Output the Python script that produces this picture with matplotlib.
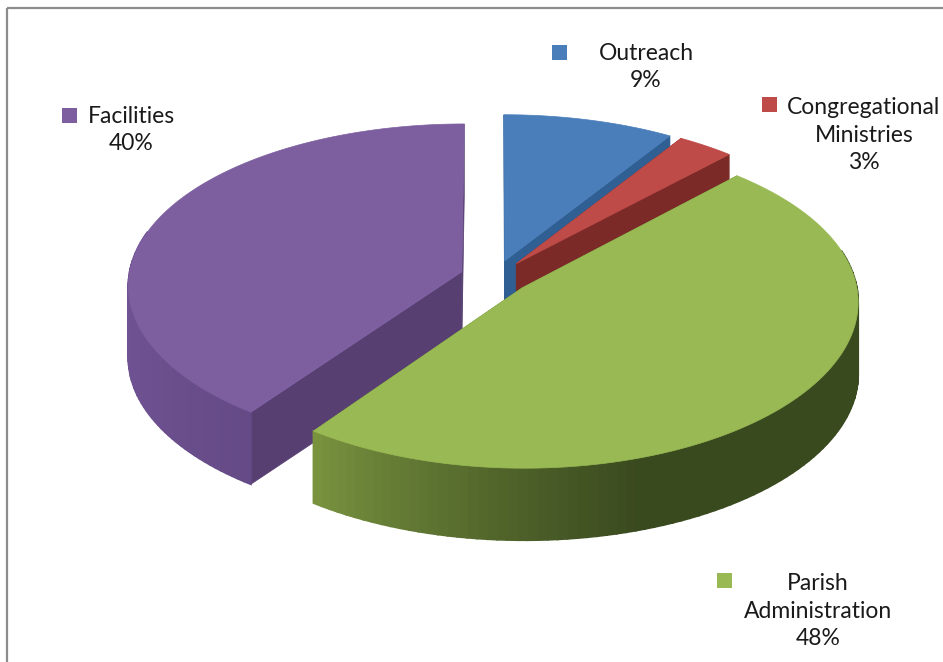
import numpy as np
import matplotlib
matplotlib.use("Agg")
import matplotlib.pyplot as plt
from matplotlib.patches import Polygon, Rectangle

categories = ["Outreach", "Congregational\nMinistries", "Parish\nAdministration", "Facilities"]
values = [9, 3, 48, 40]

top_colors = ["#4a7ebb", "#be4b48", "#98b954", "#7d5fa0"]
inner_colors = ["#2f5f93", "#7c2a28", "#5f7a30", "#573f72"]
# colour of the outer side, left to right
side_left = ["#3a6ca5", "#8f2f2d", "#7b9640", "#6f5292"]
side_right = ["#2f5f93", "#7c2a28", "#3a4a1f", "#5f4680"]

# where the labels and their squares sit (pixels)
label_xy = [(646, 67), (864, 135), (818, 611), (131, 130)]
key_xy = [(559, 52), (769, 104), (724, 580), (69, 115)]

CX, CY = 495, 277
RX, RY = 333, 162
PERSP_X = 0.08
PERSP_Y = 0.09
EXPLODE = 0.105
DEPTH = 72


def project(x, y, z=0.0):
    x = np.asarray(x, dtype=float)
    y = np.asarray(y, dtype=float)
    return CX + RX * x / (1.0 + PERSP_X * y), CY - RY * y / (1.0 + PERSP_Y * y) + DEPTH * z


fig = plt.figure(figsize=(9.43, 6.62), dpi=100)
ax = fig.add_axes([0, 0, 1, 1])
ax.set_xlim(0, 943)
ax.set_ylim(662, 0)
ax.axis("off")

ax.add_patch(Rectangle((7, 8), 960, 700, fill=False, ec="#8c8c8c", lw=1.6, zorder=1))

fracs = np.array(values) / sum(values)
edges = np.concatenate([[0], np.cumsum(fracs)]) * 2 * np.pi

# back slices first, green goes last because it is in front
order = [3, 0, 1, 2]
for k, i in enumerate(order):
    a0, a1 = edges[i], edges[i + 1]
    mid = (a0 + a1) / 2
    off = (EXPLODE * np.sin(mid), EXPLODE * np.cos(mid))
    z = 10 + k * 3

    apex = project(off[0], off[1])
    apex_b = project(off[0], off[1], 1)

    # flat cut faces
    for a in (a0, a1):
        p = project(np.sin(a) + off[0], np.cos(a) + off[1])
        q = project(np.sin(a) + off[0], np.cos(a) + off[1], 1)
        ax.add_patch(Polygon([apex, p, q, apex_b], fc=inner_colors[i], ec=inner_colors[i], lw=0.5, zorder=z))

    # outer side, made of small quads so it shades along x
    t = np.linspace(a0, a1, 110)
    x0, y0 = project(np.sin(t) + off[0], np.cos(t) + off[1])
    x1, y1 = project(np.sin(t) + off[0], np.cos(t) + off[1], 1)
    c0 = np.array(matplotlib.colors.to_rgb(side_left[i]))
    c1 = np.array(matplotlib.colors.to_rgb(side_right[i]))
    xmin, xmax = x0.min(), x0.max()
    for j in range(len(t) - 1):
        if np.cos(t[j]) > 0.25:
            continue
        f = ((x0[j] - xmin) / (xmax - xmin)) ** 0.8
        col = c0 + (c1 - c0) * min(1, f * 1.5)
        ax.add_patch(Polygon([(x0[j], y0[j]), (x0[j + 1], y0[j + 1]), (x1[j + 1], y1[j + 1]), (x1[j], y1[j])],
                             fc=col, ec=col, lw=1.3, zorder=z + 0.5))

    # top surface
    t = np.linspace(a0, a1, 160)
    xs, ys = project(np.sin(t) + off[0], np.cos(t) + off[1])
    pts = np.column_stack([np.r_[apex[0], xs], np.r_[apex[1], ys]])
    ax.add_patch(Polygon(pts, fc=top_colors[i], ec=top_colors[i], lw=0.5, zorder=z + 1))

plt.rcParams["font.family"] = ["Lato", "DejaVu Sans"]
for i, name in enumerate(categories):
    x, y = label_xy[i]
    ax.text(x, y, f"{name}\n{values[i]}%", ha="center", va="center", fontsize=16.5, color="#1a1a1a",
            linespacing=1.4, zorder=30)
    kx, ky = key_xy[i]
    ax.add_patch(Rectangle((kx - 7.5, ky - 7.5), 15, 15, fc=top_colors[i], ec="none", zorder=30))

fig.savefig("out.png", dpi=100)
